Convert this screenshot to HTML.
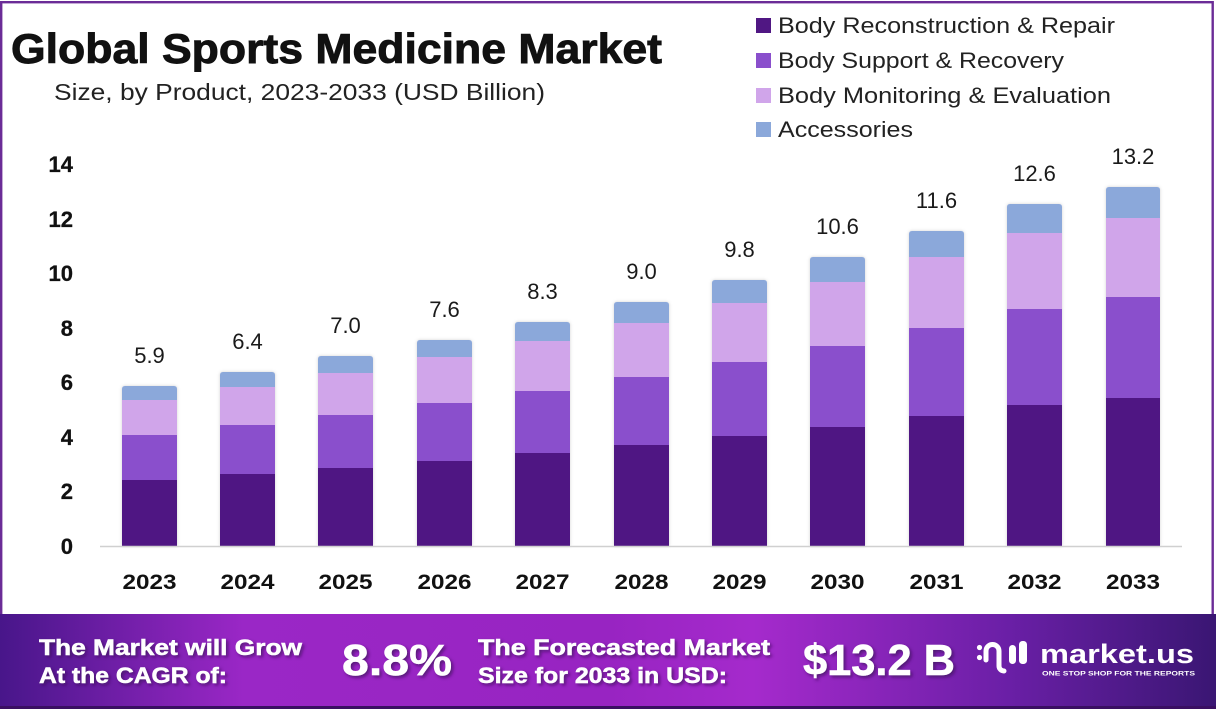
<!DOCTYPE html>
<html>
<head>
<meta charset="utf-8">
<style>
html,body{margin:0;padding:0;background:#fff;}
svg{display:block;}
text{font-family:"Liberation Sans",Arial,sans-serif;}
</style>
</head>
<body>
<svg width="1216" height="709" viewBox="0 0 1216 709" xmlns="http://www.w3.org/2000/svg">
<defs>
<linearGradient id="ban" x1="0" y1="0" x2="1" y2="0">
<stop offset="0" stop-color="#48168a"/>
<stop offset="0.2" stop-color="#9a27c6"/>
<stop offset="0.5" stop-color="#9824c2"/>
<stop offset="0.62" stop-color="#a52acc"/>
<stop offset="0.83" stop-color="#6a1fa6"/>
<stop offset="1" stop-color="#3a1673"/>
</linearGradient>
<filter id="ts" x="-10%" y="-20%" width="130%" height="150%">
<feDropShadow dx="2" dy="2" stdDeviation="1.5" flood-color="#3a0a5a" flood-opacity="0.7"/>
</filter>
<filter id="bs" x="-10%" y="-5%" width="120%" height="110%">
<feDropShadow dx="0" dy="0" stdDeviation="1.5" flood-color="#000" flood-opacity="0.18"/>
</filter>
</defs>

<rect x="0" y="0" width="1216" height="709" fill="#fff"/>
<!-- frame -->
<rect x="1.2" y="2.2" width="1211.5" height="620" fill="#fff" stroke="#6b2c97" stroke-width="2.4"/>

<!-- title -->
<text x="11" y="63" font-size="42" font-weight="bold" fill="#111" stroke="#111" stroke-width="0.9" textLength="651" lengthAdjust="spacingAndGlyphs">Global Sports Medicine Market</text>
<text x="54" y="100" font-size="23" fill="#222" textLength="491" lengthAdjust="spacingAndGlyphs">Size, by Product, 2023-2033 (USD Billion)</text>

<!-- legend -->
<rect x="756" y="18" width="15" height="15" fill="#501783"/>
<text x="778" y="33" font-size="22" fill="#222" textLength="337" lengthAdjust="spacingAndGlyphs">Body Reconstruction &amp; Repair</text>
<rect x="756" y="53" width="15" height="15" fill="#8a4fcc"/>
<text x="778" y="68" font-size="22" fill="#222" textLength="286" lengthAdjust="spacingAndGlyphs">Body Support &amp; Recovery</text>
<rect x="756" y="88" width="15" height="15" fill="#d0a5ea"/>
<text x="778" y="103" font-size="22" fill="#222" textLength="333" lengthAdjust="spacingAndGlyphs">Body Monitoring &amp; Evaluation</text>
<rect x="756" y="122" width="15" height="15" fill="#8ba8da"/>
<text x="778" y="137" font-size="22" fill="#222" textLength="135" lengthAdjust="spacingAndGlyphs">Accessories</text>

<!-- y axis labels -->
<g font-size="22" font-weight="bold" fill="#111" stroke="#111" stroke-width="0.3" text-anchor="end">
<text x="73" y="554">0</text>
<text x="73" y="499">2</text>
<text x="73" y="445">4</text>
<text x="73" y="390">6</text>
<text x="73" y="336">8</text>
<text x="73" y="281">10</text>
<text x="73" y="227">12</text>
<text x="73" y="172">14</text>
</g>

<!-- bars -->
<g filter="url(#bs)">
<g transform="translate(122,0)">
<path d="M0,389 Q0,386 3,386 H52 Q55,386 55,389 V546 H0 Z" fill="#8ba8da"/>
<rect x="0" y="400" width="55" height="146" fill="#d0a5ea"/>
<rect x="0" y="435" width="55" height="111" fill="#8a4fcc"/>
<rect x="0" y="480" width="55" height="66" fill="#501783"/>
</g>
<g transform="translate(220,0)">
<path d="M0,375 Q0,372 3,372 H52 Q55,372 55,375 V546 H0 Z" fill="#8ba8da"/>
<rect x="0" y="387" width="55" height="159" fill="#d0a5ea"/>
<rect x="0" y="425" width="55" height="121" fill="#8a4fcc"/>
<rect x="0" y="474" width="55" height="72" fill="#501783"/>
</g>
<g transform="translate(318,0)">
<path d="M0,359 Q0,356 3,356 H52 Q55,356 55,359 V546 H0 Z" fill="#8ba8da"/>
<rect x="0" y="373" width="55" height="173" fill="#d0a5ea"/>
<rect x="0" y="415" width="55" height="131" fill="#8a4fcc"/>
<rect x="0" y="468" width="55" height="78" fill="#501783"/>
</g>
<g transform="translate(417,0)">
<path d="M0,343 Q0,340 3,340 H52 Q55,340 55,343 V546 H0 Z" fill="#8ba8da"/>
<rect x="0" y="357" width="55" height="189" fill="#d0a5ea"/>
<rect x="0" y="403" width="55" height="143" fill="#8a4fcc"/>
<rect x="0" y="461" width="55" height="85" fill="#501783"/>
</g>
<g transform="translate(515,0)">
<path d="M0,325 Q0,322 3,322 H52 Q55,322 55,325 V546 H0 Z" fill="#8ba8da"/>
<rect x="0" y="341" width="55" height="205" fill="#d0a5ea"/>
<rect x="0" y="391" width="55" height="155" fill="#8a4fcc"/>
<rect x="0" y="453" width="55" height="93" fill="#501783"/>
</g>
<g transform="translate(614,0)">
<path d="M0,305 Q0,302 3,302 H52 Q55,302 55,305 V546 H0 Z" fill="#8ba8da"/>
<rect x="0" y="323" width="55" height="223" fill="#d0a5ea"/>
<rect x="0" y="377" width="55" height="169" fill="#8a4fcc"/>
<rect x="0" y="445" width="55" height="101" fill="#501783"/>
</g>
<g transform="translate(712,0)">
<path d="M0,283 Q0,280 3,280 H52 Q55,280 55,283 V546 H0 Z" fill="#8ba8da"/>
<rect x="0" y="303" width="55" height="243" fill="#d0a5ea"/>
<rect x="0" y="362" width="55" height="184" fill="#8a4fcc"/>
<rect x="0" y="436" width="55" height="110" fill="#501783"/>
</g>
<g transform="translate(810,0)">
<path d="M0,260 Q0,257 3,257 H52 Q55,257 55,260 V546 H0 Z" fill="#8ba8da"/>
<rect x="0" y="282" width="55" height="264" fill="#d0a5ea"/>
<rect x="0" y="346" width="55" height="200" fill="#8a4fcc"/>
<rect x="0" y="427" width="55" height="119" fill="#501783"/>
</g>
<g transform="translate(909,0)">
<path d="M0,234 Q0,231 3,231 H52 Q55,231 55,234 V546 H0 Z" fill="#8ba8da"/>
<rect x="0" y="257" width="55" height="289" fill="#d0a5ea"/>
<rect x="0" y="328" width="55" height="218" fill="#8a4fcc"/>
<rect x="0" y="416" width="55" height="130" fill="#501783"/>
</g>
<g transform="translate(1007,0)">
<path d="M0,207 Q0,204 3,204 H52 Q55,204 55,207 V546 H0 Z" fill="#8ba8da"/>
<rect x="0" y="233" width="55" height="313" fill="#d0a5ea"/>
<rect x="0" y="309" width="55" height="237" fill="#8a4fcc"/>
<rect x="0" y="405" width="55" height="141" fill="#501783"/>
</g>
<g transform="translate(1106,0)">
<path d="M0,190 Q0,187 3,187 H51 Q54,187 54,190 V546 H0 Z" fill="#8ba8da"/>
<rect x="0" y="218" width="54" height="328" fill="#d0a5ea"/>
<rect x="0" y="297" width="54" height="249" fill="#8a4fcc"/>
<rect x="0" y="398" width="54" height="148" fill="#501783"/>
</g>
</g>

<!-- axis line -->
<line x1="100" y1="546.5" x2="1182" y2="546.5" stroke="#d0d0d0" stroke-width="1.5"/>

<!-- value labels -->
<g font-size="22" fill="#1a1a1a" text-anchor="middle">
<text x="149.5" y="363">5.9</text>
<text x="247.5" y="349">6.4</text>
<text x="345.5" y="333">7.0</text>
<text x="444.5" y="317">7.6</text>
<text x="542.5" y="299">8.3</text>
<text x="641.5" y="279">9.0</text>
<text x="739.5" y="257">9.8</text>
<text x="837.5" y="234">10.6</text>
<text x="936.5" y="208">11.6</text>
<text x="1034.5" y="181">12.6</text>
<text x="1133" y="164">13.2</text>
</g>

<!-- x labels -->
<g font-size="21" font-weight="bold" fill="#111" text-anchor="middle">
<text x="149.5" y="589" textLength="54" lengthAdjust="spacingAndGlyphs">2023</text>
<text x="247.5" y="589" textLength="54" lengthAdjust="spacingAndGlyphs">2024</text>
<text x="345.5" y="589" textLength="54" lengthAdjust="spacingAndGlyphs">2025</text>
<text x="444.5" y="589" textLength="54" lengthAdjust="spacingAndGlyphs">2026</text>
<text x="542.5" y="589" textLength="54" lengthAdjust="spacingAndGlyphs">2027</text>
<text x="641.5" y="589" textLength="54" lengthAdjust="spacingAndGlyphs">2028</text>
<text x="739.5" y="589" textLength="54" lengthAdjust="spacingAndGlyphs">2029</text>
<text x="837.5" y="589" textLength="54" lengthAdjust="spacingAndGlyphs">2030</text>
<text x="936.5" y="589" textLength="54" lengthAdjust="spacingAndGlyphs">2031</text>
<text x="1034.5" y="589" textLength="54" lengthAdjust="spacingAndGlyphs">2032</text>
<text x="1133" y="589" textLength="54" lengthAdjust="spacingAndGlyphs">2033</text>
</g>

<!-- banner -->
<rect x="0" y="614" width="1216" height="95" fill="url(#ban)"/>
<rect x="0" y="706" width="1216" height="3" fill="#3a0f62"/>

<g fill="#fff" stroke="#fff" stroke-width="0.5" font-weight="bold" filter="url(#ts)">
<text x="39" y="655" font-size="22" textLength="263" lengthAdjust="spacingAndGlyphs">The Market will Grow</text>
<text x="39" y="683" font-size="22" textLength="188" lengthAdjust="spacingAndGlyphs">At the CAGR of:</text>
<text x="342" y="675" font-size="44" textLength="110" lengthAdjust="spacingAndGlyphs">8.8%</text>
<text x="478" y="655" font-size="22" textLength="292" lengthAdjust="spacingAndGlyphs">The Forecasted Market</text>
<text x="478" y="683" font-size="22" textLength="249" lengthAdjust="spacingAndGlyphs">Size for 2033 in USD:</text>
<text x="803" y="675" font-size="44" textLength="152" lengthAdjust="spacingAndGlyphs">$13.2 B</text>
</g>

<!-- logo -->
<g fill="#fff">
<circle cx="979.5" cy="647.5" r="2.6"/>
<circle cx="979.5" cy="657.5" r="2.6"/>
<path d="M986,660 V651 A6.5,6.5 0 0 1 999,651 V666 A5,5 0 0 0 1004,671" fill="none" stroke="#fff" stroke-width="5" stroke-linecap="round"/>
<rect x="1009" y="645" width="7" height="19" rx="3.5"/>
<rect x="1019" y="641" width="8" height="23" rx="3.5"/>
<text x="1040" y="663" font-size="27" font-weight="bold" textLength="154" lengthAdjust="spacingAndGlyphs">market.us</text>
<text x="1042" y="675.5" font-size="6" font-weight="bold" textLength="153" lengthAdjust="spacingAndGlyphs">ONE STOP SHOP FOR THE REPORTS</text>
</g>
</svg>
</body>
</html>
